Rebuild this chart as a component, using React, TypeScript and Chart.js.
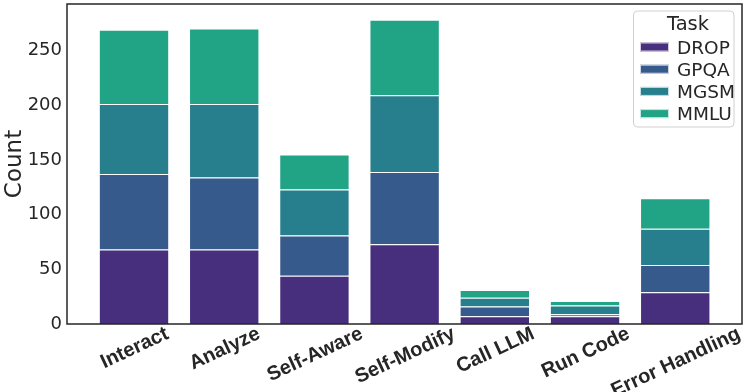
import React, { useEffect, useRef } from "react";
import { Chart, registerables } from "chart.js";

Chart.register(...registerables);

const categories = ["Interact", "Analyze", "Self-Aware", "Self-Modify", "Call LLM", "Run Code", "Error Handling"];
const taskNames = ["DROP", "GPQA", "MGSM", "MMLU"];
const dropValues = [68, 68, 44, 73, 7, 7, 29];
const gpqaValues = [69, 66, 37, 66, 9, 2, 25];
const mgsmValues = [64, 67, 42, 70, 8, 8, 33];
const mmluValues = [68, 69, 32, 69, 7, 4, 28];
const yTicks = [0, 50, 100, 150, 200, 250];
const taskColors = ["#472f7d", "#375a8c", "#277f8e", "#21a386"];

const TEXT = "#262626";
const FONT = '"DejaVu Sans", "Liberation Sans", sans-serif';
const XFONT = '"Liberation Sans", Arial, sans-serif';

const frameAndLabels = {
  id: "frameAndLabels",
  afterDraw(chart: any) {
    const { ctx, chartArea } = chart;
    const xs = chart.scales.x;
    ctx.save();
    // frame
    ctx.strokeStyle = TEXT;
    ctx.lineWidth = 1.5;
    ctx.strokeRect(chartArea.left, chartArea.top, chartArea.right - chartArea.left, chartArea.bottom - chartArea.top);

    // x labels rotated, centered on tick
    const size = 20;
    ctx.font = `bold ${size}px ${XFONT}`;
    ctx.fillStyle = TEXT;
    ctx.textAlign = "center";
    ctx.textBaseline = "alphabetic";
    const ang = (25 * Math.PI) / 180;
    categories.forEach((label, i) => {
      const x = xs.getPixelForValue(i);
      const w = ctx.measureText(label).width;
      const h = size * 1.117;
      const H = w * Math.sin(ang) + h * Math.cos(ang);
      const cy = chartArea.bottom - 2.5 + H / 2;
      ctx.save();
      ctx.translate(x, cy);
      ctx.rotate(-ang);
      ctx.fillText(label, 0, 0.3465 * size);
      ctx.restore();
    });

    // legend
    const bx = 633.5, by = 11, bw = 100.5, bh = 116, r = 4;
    ctx.beginPath();
    ctx.moveTo(bx + r, by);
    ctx.lineTo(bx + bw - r, by);
    ctx.arcTo(bx + bw, by, bx + bw, by + r, r);
    ctx.lineTo(bx + bw, by + bh - r);
    ctx.arcTo(bx + bw, by + bh, bx + bw - r, by + bh, r);
    ctx.lineTo(bx + r, by + bh);
    ctx.arcTo(bx, by + bh, bx, by + bh - r, r);
    ctx.lineTo(bx, by + r);
    ctx.arcTo(bx, by, bx + r, by, r);
    ctx.closePath();
    ctx.fillStyle = "rgba(255,255,255,0.8)";
    ctx.fill();
    ctx.strokeStyle = "#d0d0d0";
    ctx.lineWidth = 1;
    ctx.stroke();

    ctx.fillStyle = TEXT;
    ctx.font = `19.5px ${FONT}`;
    ctx.textAlign = "center";
    ctx.fillText("Task", 688, 23 + 0.729 * 19.5 / 2);

    const itemSize = 18.5;
    ctx.font = `${itemSize}px ${FONT}`;
    ctx.textAlign = "left";
    taskNames.forEach((name, i) => {
      const cy = 47 + i * 22.2;
      ctx.fillStyle = taskColors[i];
      ctx.fillRect(640, cy - 4.5, 29, 9);
      ctx.strokeStyle = "rgba(255,255,255,0.75)";
      ctx.lineWidth = 1;
      ctx.strokeRect(640.5, cy - 4, 28, 8);
      ctx.fillStyle = TEXT;
      ctx.fillText(name, 677, cy + 0.729 * itemSize / 2);
    });
    ctx.restore();
  },
};

export default function App() {
  const ref = useRef<HTMLCanvasElement>(null);
  useEffect(() => {
    if (!ref.current) return;
    const series = [dropValues, gpqaValues, mgsmValues, mmluValues];
    const chart = new Chart(ref.current, {
      type: "bar",
      data: {
        datasets: series.map((vals, k) => ({
          label: taskNames[k],
          data: vals.map((v, i) => ({ x: i, y: v })),
          backgroundColor: taskColors[k],
          borderColor: "rgba(255,255,255,0.75)",
          borderWidth: 1,
          barPercentage: 0.78,
          categoryPercentage: 1,
        })),
      },
      options: {
        responsive: false,
        animation: false,
        layout: { padding: { left: 0, top: 4, right: 5, bottom: 68 } },
        plugins: { legend: { display: false }, tooltip: { enabled: false } },
        scales: {
          x: {
            type: "linear",
            stacked: true,
            display: false,
            offset: false,
            min: -0.743,
            max: 6.74,
            afterBuildTicks: (scale: any) => {
              scale.ticks = categories.map((_, i) => ({ value: i }));
            },
          },
          y: {
            stacked: true,
            min: 0,
            max: 292.5,
            grid: { display: false, drawTicks: false },
            border: { display: false },
            afterFit: (scale: any) => {
              scale.width = 67;
              scale.paddingTop = 0;
              scale.paddingBottom = 0;
            },
            afterBuildTicks: (scale: any) => {
              scale.ticks = yTicks.map((v) => ({ value: v }));
            },
            ticks: {
              padding: 5,
              color: TEXT,
              font: { family: FONT, size: 18 },
              callback: (v: any) => String(v),
            },
            title: {
              display: true,
              text: "Count",
              color: TEXT,
              font: { family: FONT, size: 23 },
              padding: { top: 1, bottom: 0 },
            },
          },
        },
      },
      plugins: [frameAndLabels],
    });
    return () => chart.destroy();
  }, []);
  return (
    <div style={{ position: "absolute", left: 0, top: 0, width: 747, height: 392 }}>
      <canvas ref={ref} width={747} height={392} />
    </div>
  );
}
